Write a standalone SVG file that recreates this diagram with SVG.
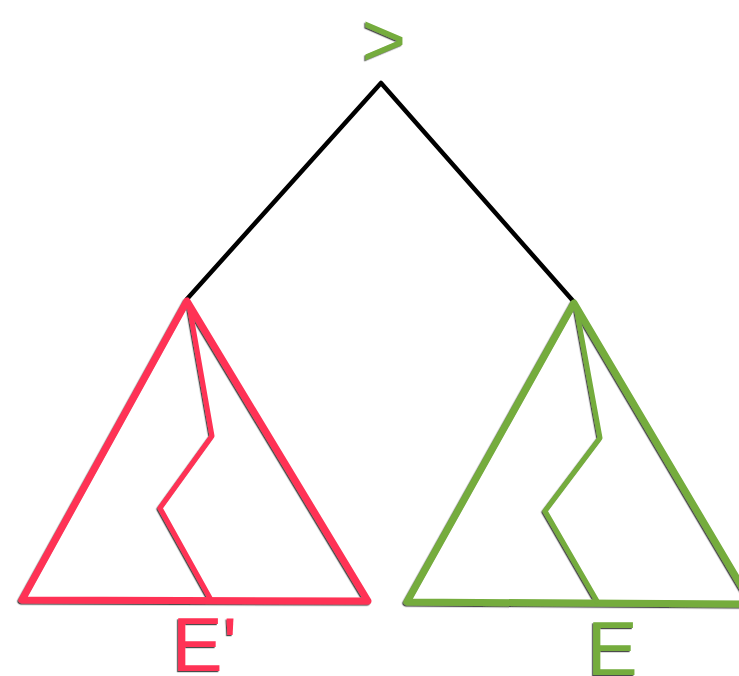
<svg xmlns="http://www.w3.org/2000/svg" width="739" height="676" viewBox="0 0 739 676">
<defs>
<filter id="sh" filterUnits="userSpaceOnUse" x="0" y="0" width="739" height="676">
<feDropShadow dx="-1.2" dy="1.2" stdDeviation="0.6" flood-color="#000" flood-opacity="0.7"/>
</filter>
<style>
.red{fill:none;stroke:#FF3355;stroke-linejoin:round;stroke-linecap:round}
.grn{fill:none;stroke:#74AC3C;stroke-linejoin:round;stroke-linecap:round}
.edge{fill:none;stroke:#000;stroke-width:4.5;stroke-linecap:round;stroke-linejoin:round}
.lbl{font-family:"Liberation Sans",Arial,sans-serif;font-size:76px}
</style>
</defs>
<rect width="739" height="676" fill="#fff"/>
<g id="connectors">
<polyline class="edge" points="187,299 381,83 574,302"/>
</g>
<g id="root" filter="url(#sh)">
<text class="lbl" x="384" y="66" text-anchor="middle" fill="#74AC3C">&gt;</text>
</g>
<g id="Eprime" filter="url(#sh)">
<polygon class="red" stroke-width="7" points="187,301 22,600 368,601"/>
<polyline class="red" stroke-width="5" points="189,304 212,436 160,508 210,598"/>
<text class="lbl" x="172" y="671" fill="#FF3355">E'</text>
</g>
<g id="E" filter="url(#sh)">
<polygon class="grn" stroke-width="7" points="574,303 407,602 752,604"/>
<polyline class="grn" stroke-width="5" points="576,306 600,438 545,511 597,601"/>
<text class="lbl" x="587" y="675" fill="#74AC3C">E</text>
</g>
</svg>
